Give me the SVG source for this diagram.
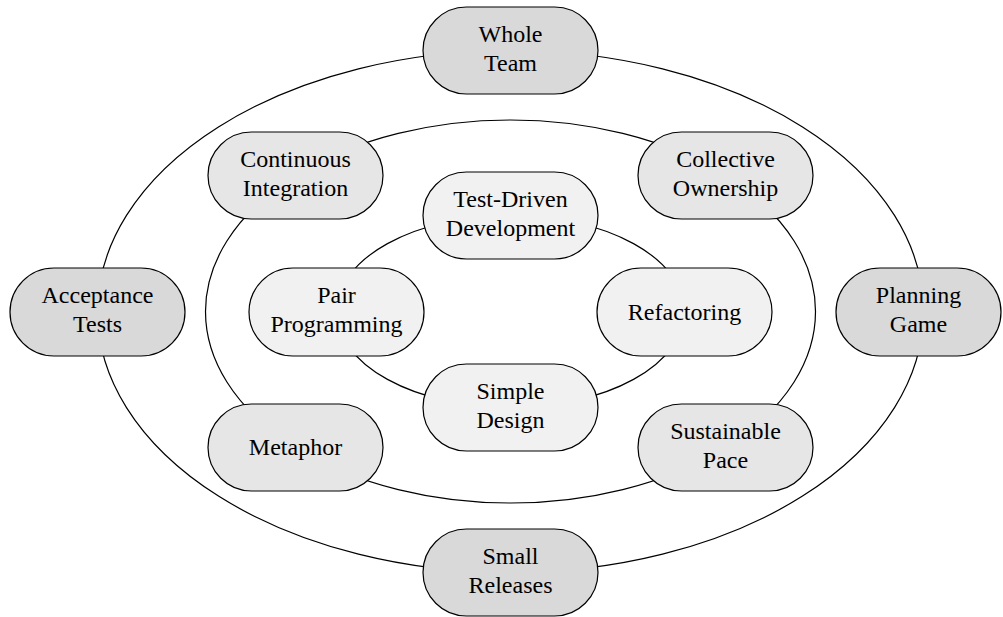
<svg xmlns="http://www.w3.org/2000/svg" width="1003" height="617" viewBox="0 0 1003 617">
<style>
.ring{fill:none;stroke:#000;stroke-width:1.2}
.n rect{stroke:#000;stroke-width:1.2}
.outer rect{fill:#d9d9d9}
.mid rect{fill:#e6e6e6}
.inner rect{fill:#f1f1f1}
text{font-family:"Liberation Serif","Times New Roman",serif;font-size:24px;fill:#000;text-anchor:middle}
</style>
<rect width="1003" height="617" fill="#fff"/>
<g id="connectors">
<ellipse class="ring" cx="510.5" cy="311.5" rx="413" ry="261"/>
<ellipse class="ring" cx="510.5" cy="311.5" rx="305" ry="191.5"/>
<ellipse class="ring" cx="510.5" cy="311.5" rx="174" ry="96"/>
</g>
<g id="whole-team" class="n outer"><rect x="423" y="7" width="175" height="87" rx="43.5"/><text x="510.5" y="41.5">Whole</text><text x="510.5" y="70.5">Team</text></g>
<g id="acceptance-tests" class="n outer"><rect x="10" y="268" width="175" height="88" rx="44"/><text x="97.5" y="303">Acceptance</text><text x="97.5" y="332">Tests</text></g>
<g id="planning-game" class="n outer"><rect x="836" y="268" width="165" height="88" rx="44"/><text x="918.5" y="303">Planning</text><text x="918.5" y="332">Game</text></g>
<g id="small-releases" class="n outer"><rect x="423" y="529" width="175" height="87" rx="43.5"/><text x="510.5" y="563.5">Small</text><text x="510.5" y="592.5">Releases</text></g>
<g id="continuous-integration" class="n mid"><rect x="208" y="132" width="175" height="87" rx="43.5"/><text x="295.5" y="166.5">Continuous</text><text x="295.5" y="195.5">Integration</text></g>
<g id="collective-ownership" class="n mid"><rect x="638" y="132" width="175" height="87" rx="43.5"/><text x="725.5" y="166.5">Collective</text><text x="725.5" y="195.5">Ownership</text></g>
<g id="metaphor" class="n mid"><rect x="208" y="404" width="175" height="87" rx="43.5"/><text x="295.5" y="455">Metaphor</text></g>
<g id="sustainable-pace" class="n mid"><rect x="638" y="404" width="175" height="87" rx="43.5"/><text x="725.5" y="438.5">Sustainable</text><text x="725.5" y="467.5">Pace</text></g>
<g id="test-driven-development" class="n inner"><rect x="423" y="172" width="175" height="87" rx="43.5"/><text x="510.5" y="206.5">Test-Driven</text><text x="510.5" y="235.5">Development</text></g>
<g id="pair-programming" class="n inner"><rect x="249" y="268" width="175" height="88" rx="44"/><text x="336.5" y="303">Pair</text><text x="336.5" y="332">Programming</text></g>
<g id="refactoring" class="n inner"><rect x="597" y="268" width="175" height="88" rx="44"/><text x="684.5" y="320">Refactoring</text></g>
<g id="simple-design" class="n inner"><rect x="423" y="364" width="175" height="87" rx="43.5"/><text x="510.5" y="398.5">Simple</text><text x="510.5" y="427.5">Design</text></g>
</svg>
